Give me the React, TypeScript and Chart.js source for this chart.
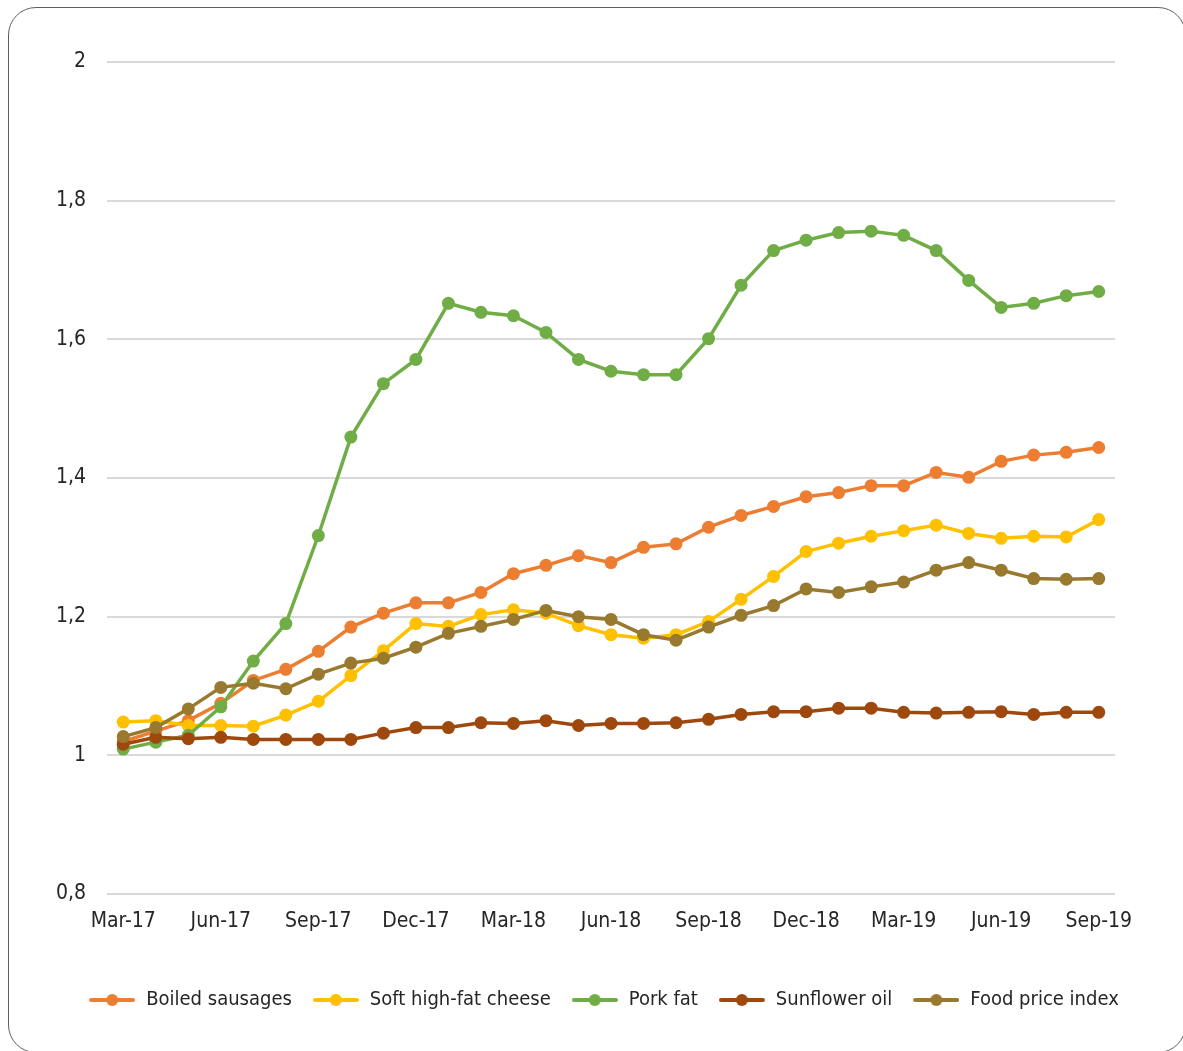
import React, { useEffect, useRef } from "react";
import { Chart, registerables } from "chart.js";

Chart.register(...registerables);

const months: string[] = [
  "Mar-17", "Apr-17", "May-17", "Jun-17", "Jul-17", "Aug-17", "Sep-17", "Oct-17", "Nov-17", "Dec-17",
  "Jan-18", "Feb-18", "Mar-18", "Apr-18", "May-18", "Jun-18", "Jul-18", "Aug-18", "Sep-18", "Oct-18",
  "Nov-18", "Dec-18", "Jan-19", "Feb-19", "Mar-19", "Apr-19", "May-19", "Jun-19", "Jul-19", "Aug-19", "Sep-19",
];

const boiledSausages: number[] = [
  1.02, 1.035, 1.05, 1.075, 1.108, 1.124, 1.15, 1.185, 1.205, 1.22, 1.22, 1.235, 1.262, 1.274, 1.288, 1.278,
  1.3, 1.305, 1.329, 1.346, 1.359, 1.373, 1.379, 1.389, 1.389, 1.408, 1.401, 1.424, 1.433, 1.437, 1.444,
];
const softCheese: number[] = [
  1.048, 1.05, 1.043, 1.043, 1.042, 1.058, 1.078, 1.115, 1.151, 1.19, 1.186, 1.203, 1.21, 1.205, 1.187, 1.174,
  1.169, 1.174, 1.193, 1.225, 1.258, 1.294, 1.306, 1.316, 1.324, 1.332, 1.32, 1.313, 1.316, 1.315, 1.34,
];
const porkFat: number[] = [
  1.009, 1.019, 1.029, 1.07, 1.136, 1.19, 1.317, 1.459, 1.536, 1.571, 1.652, 1.639, 1.634, 1.61, 1.571, 1.554,
  1.549, 1.549, 1.601, 1.678, 1.728, 1.743, 1.754, 1.756, 1.75, 1.728, 1.685, 1.646, 1.652, 1.663, 1.669,
];
const sunflowerOil: number[] = [
  1.016, 1.026, 1.024, 1.026, 1.023, 1.023, 1.023, 1.023, 1.032, 1.04, 1.04, 1.047, 1.046, 1.05, 1.043, 1.046,
  1.046, 1.047, 1.052, 1.059, 1.063, 1.063, 1.068, 1.068, 1.062, 1.061, 1.062, 1.063, 1.059, 1.062, 1.062,
];
const foodPriceIndex: number[] = [
  1.027, 1.04, 1.067, 1.098, 1.104, 1.096, 1.117, 1.133, 1.14, 1.156, 1.176, 1.186, 1.196, 1.209, 1.2, 1.196,
  1.174, 1.166, 1.185, 1.202, 1.216, 1.24, 1.235, 1.243, 1.25, 1.267, 1.278, 1.267, 1.255, 1.254, 1.255,
];

const seriesNames: string[] = ["Boiled sausages", "Soft high-fat cheese", "Pork fat", "Sunflower oil", "Food price index"];
const seriesData: number[][] = [boiledSausages, softCheese, porkFat, sunflowerOil, foodPriceIndex];
const seriesColors: string[] = ["#ED7D31", "#FFC000", "#70AD47", "#9E480E", "#98792E"];

const FONT = "'Liberation Sans Narrow', 'DejaVu Sans Condensed', 'Arial Narrow', sans-serif";
const LEGEND_FONT_SIZE = 20;
const TICK_FONT_SIZE = 21;

function makeSymbol(color: string): HTMLCanvasElement {
  const c = document.createElement("canvas");
  c.width = 46;
  c.height = 14;
  const ctx = c.getContext("2d")!;
  ctx.strokeStyle = color;
  ctx.lineWidth = 4;
  ctx.lineCap = "round";
  ctx.beginPath();
  ctx.moveTo(2, 7);
  ctx.lineTo(44, 7);
  ctx.stroke();
  ctx.fillStyle = color;
  ctx.beginPath();
  ctx.arc(23, 7, 6, 0, Math.PI * 2);
  ctx.fill();
  return c;
}

const legendShift = {
  id: "legendShift",
  afterLayout(chart: any) {
    const lg = chart.legend;
    if (lg) {
      lg.left += 46;
      lg.right += 46;
    }
  },
};

export default function App() {
  const ref = useRef<HTMLCanvasElement | null>(null);

  useEffect(() => {
    if (!ref.current) return;
    const symbols = seriesColors.map(makeSymbol);
    const chart = new Chart(ref.current, {
      type: "line",
      data: {
        labels: months,
        datasets: seriesNames.map((name, i) => ({
          label: name,
          data: seriesData[i],
          borderColor: seriesColors[i],
          backgroundColor: seriesColors[i],
          pointBackgroundColor: seriesColors[i],
          pointBorderColor: seriesColors[i],
          borderWidth: 3.5,
          pointRadius: 6.5,
          pointBorderWidth: 0,
          tension: 0,
          order: seriesNames.length - i,
        })),
      },
      plugins: [legendShift],
      options: {
        animation: false,
        responsive: false,
        maintainAspectRatio: false,
        layout: { padding: { top: 62, right: 68, bottom: 31, left: 0 } },
        scales: {
          x: {
            offset: true,
            grid: { display: false, drawTicks: false },
            border: { display: false },
            ticks: {
              autoSkip: false,
              maxRotation: 0,
              padding: 15,
              color: "#262626",
              font: { family: FONT, size: TICK_FONT_SIZE },
              callback: (_v: any, i: number) => (i % 3 === 0 ? months[i] : ""),
            },
            afterFit: (s: any) => {
              s.height = 76;
            },
          },
          y: {
            min: 0.8,
            max: 2,
            grid: { color: "#d9d9d9", lineWidth: 2, drawTicks: false },
            border: { display: false },
            ticks: {
              stepSize: 0.2,
              padding: 21,
              color: "#262626",
              font: { family: FONT, size: TICK_FONT_SIZE },
              callback: (v: any) => String(Math.round(Number(v) * 10) / 10).replace(".", ","),
            },
            afterFit: (s: any) => {
              s.width = 107;
            },
          },
        },
        plugins: {
          tooltip: { enabled: false },
          legend: {
            position: "bottom",
            labels: {
              usePointStyle: true,
              pointStyleWidth: 48,
              padding: 20,
              color: "#262626",
              font: { family: FONT, size: LEGEND_FONT_SIZE },
              sort: (a: any, b: any) => a.datasetIndex - b.datasetIndex,
              generateLabels: (ch: any) =>
                Chart.defaults.plugins.legend.labels
                  .generateLabels(ch)
                  .map((it: any) => ({ ...it, pointStyle: symbols[it.datasetIndex] })),
            },
          },
        },
      },
    });
    return () => chart.destroy();
  }, []);

  return (
    <>
      <div
        style={{
          position: "fixed",
          left: 8,
          top: 7,
          width: 1178,
          height: 1046,
          border: "1.5px solid #5f5f5f",
          borderRadius: 28,
          boxSizing: "border-box",
          background: "#fff",
        }}
      />
      <canvas
        ref={ref}
        width={1183}
        height={1051}
        style={{ position: "fixed", left: 0, top: 0, width: 1183, height: 1051 }}
      />
    </>
  );
}
